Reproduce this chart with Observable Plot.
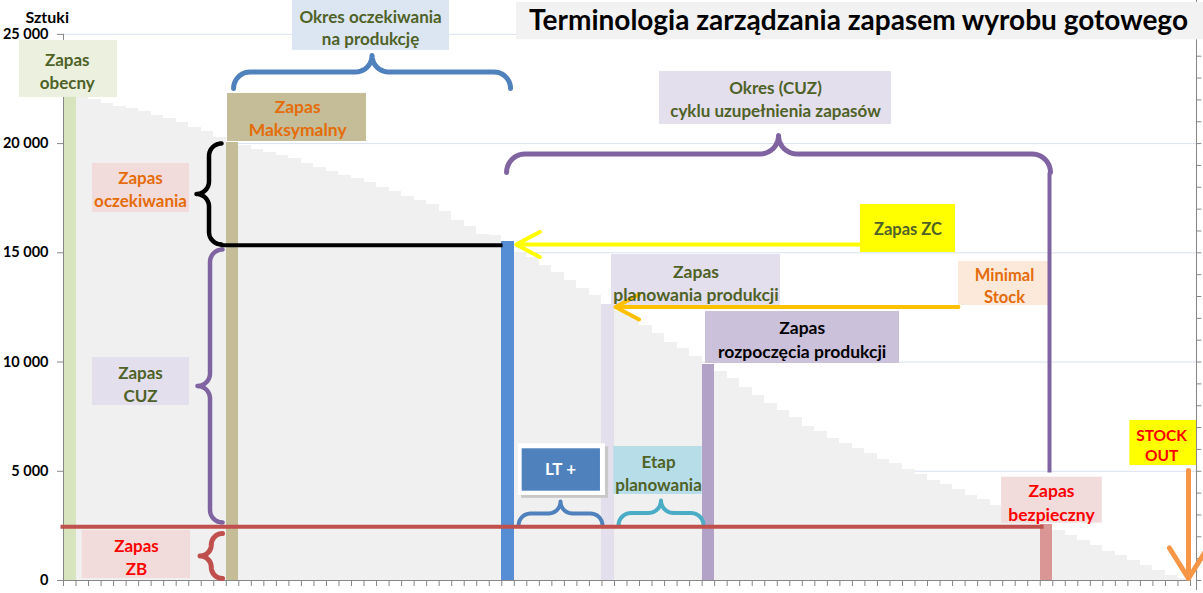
<!DOCTYPE html>
<html><head><meta charset="utf-8">
<script src="https://cdn.jsdelivr.net/npm/d3@7"></script>
<script src="https://cdn.jsdelivr.net/npm/@observablehq/plot@0.6"></script>
<style>
html,body{margin:0;padding:0;background:#fff;overflow:hidden;}
#chart svg [aria-label^="y-axis"] text{fill:#000;}
</style></head><body><div id="chart"></div>
<script>
// ---- data: stock level per period (bar index 0..89) ----
const stock = [22300,22100,22000,21850,21700,21600,21450,21300,21150,20950,
  20750,20550,20300,20050,19900,19750,19600,19450,19300,19100,
  18900,18700,18550,18400,18200,18000,17800,17600,17400,17200,
  16900,16500,16200,15850,15800,15500,15000,14800,14400,14100,
  13750,13350,13050,12650,12300,12050,11650,11300,10900,10600,
  10250,9900,9550,9250,8850,8450,8100,7800,7450,7050,
  6800,6500,6250,6050,5800,5550,5350,5100,4850,4600,
  4400,4150,3900,3700,3450,3250,3000,2800,2550,2300,
  2050,1850,1600,1350,1150,900,700,450,250,100];
const specialIdx  = [0, 13, 35, 43, 51, 78];
const specialKeys = ["obecny", "maks", "zc", "plan", "rozp", "bezp"];
const yTicks = [0, 5000, 10000, 15000, 20000, 25000];
const rightTicks = d3.range(0, 27000, 1000);
const titleText = "Terminologia zarządzania zapasem wyrobu gotowego";
const unitText = "Sztuki";

// ---- styles ----
const barColors = {base:"#f0f0f0", obecny:"#d7e4bd", maks:"#c4bd97", zc:"#558ed5", plan:"#e4dfec", rozp:"#b3a2c7", bezp:"#d99694"};
const FONT = "Lato, 'Open Sans', sans-serif";

// ---- layout ----
const W = 1203, H = 593, ML = 63, MR = 13, MT = 0, MB = 13;
const XD = [0, 90], YD = [0, 26550];
const xs = d3.scaleLinear(XD, [ML, W - MR]);
const ys = d3.scaleLinear(YD, [H - MB, MT]);

// ---- annotations (data coordinates: x = period, y = pieces) ----
const boxes = [
  {x1:36.18, x2:91.2, y1:24750, y2:26461, fill:"#f2f2f2"},
  {x1:-3.51, x2:4.31, y1:22112, y2:24721, fill:"#ebf1de"},
  {x1:18.29, x2:30.83, y1:24263, y2:26600, fill:"#dce6f2"},
  {x1:13.10, x2:24.20, y1:20097, y2:22295, fill:"#c4bd97"},
  {x1:2.32, x2:10.06, y1:16847, y2:19090, fill:"#f2dcdb"},
  {x1:47.60, x2:66.12, y1:20876, y2:23302, fill:"#e4dfec"},
  {x1:63.65, x2:71.23, y1:15016, y2:17213, fill:"#ffff00"},
  {x1:43.76, x2:57.26, y1:12590, y2:14924, fill:"#e4dfec"},
  {x1:71.47, x2:78.82, y1:12590, y2:14604, fill:"#fde9d9"},
  {x1:51.27, x2:66.76, y1:9934, y2:12315, fill:"#ccc1da"},
  {x1:2.32, x2:10.06, y1:8012, y2:10209, fill:"#e4dfec"},
  {x1:1.49, x2:10.14, y1:92, y2:2289, fill:"#f2dcdb"},
  {x1:36.58, x2:43.53, y1:3760, y2:6120, fill:"#c8c8c8"},
  {x1:36.33, x2:43.28, y1:3891, y2:6258, fill:"#ffffff"},
  {x1:36.63, x2:42.88, y1:4088, y2:6029, fill:"#4f81bd"},
  {x1:43.95, x2:51.01, y1:3937, y2:6135, fill:"#b7dee8"},
  {x1:74.91, x2:82.95, y1:2623, y2:4729, fill:"#f2dcdb"},
  {x1:85.16, x2:90.48, y1:5265, y2:7325, fill:"#ffff00"}
];
const labels = [
  {text:"Zapas\nobecny", x:0.30, y:23343, color:"#4f6228", size:17},
  {text:"Okres oczekiwania\nna produkcję", x:24.52, y:25339, color:"#4f6228", size:17},
  {text:"Zapas\nMaksymalny", x:18.70, y:21210, color:"#e46c0a", size:17.5},
  {text:"Zapas\noczekiwania", x:6.15, y:17946, color:"#e46c0a", size:17},
  {text:"Okres (CUZ)\ncyklu uzupełnienia zapasów", x:56.86, y:22066, color:"#4f6228", size:17},
  {text:"Zapas ZC", x:67.44, y:16115, color:"#4f6228", size:16.5},
  {text:"Zapas\nplanowania produkcji", x:50.51, y:13665, color:"#4f6228", size:17.5},
  {text:"Minimal\nStock", x:75.15, y:13528, color:"#e46c0a", size:16.5},
  {text:"Zapas\nrozpoczęcia produkcji", x:58.99, y:11079, color:"#000000", size:17.5},
  {text:"Zapas\nCUZ", x:6.15, y:9019, color:"#4f6228", size:17},
  {text:"Zapas\nZB", x:5.83, y:1122, color:"#ff0000", size:17},
  {text:"Etap\nplanowania", x:47.52, y:4958, color:"#4f6228", size:17},
  {text:"Zapas\nbezpieczny", x:78.90, y:3617, color:"#ff0000", size:17.5},
  {text:"STOCK\nOUT", x:87.69, y:6235, color:"#ff0000", size:15.5}
];
const ltLabel = {text:"LT +", x:39.69, y:5068};
const braces = [
  {orient:"up",   base:22524, a1:13.58, a2:35.70, tip:24035, color:"#4f81bd", w:5},
  {orient:"up",   base:18678, a1:35.38, a2:78.82, tip:20372, color:"#8064a2", w:5},
  {orient:"left", base:12.62, a1:20006, a2:15382, tip:10.62, color:"#000000", w:4.5},
  {orient:"left", base:12.70, a1:15153, a2:2655,  tip:10.70, color:"#8064a2", w:4.5},
  {orient:"left", base:12.70, a1:2152,  a2:92,    tip:10.78, color:"#c0504d", w:5},
  {orient:"up",   base:2518,  a1:36.34, a2:43.04, tip:3617,  color:"#4f81bd", w:4},
  {orient:"up",   base:2518,  a1:44.32, a2:51.11, tip:3662,  color:"#4bacc6", w:4}
];
const lines = [
  {x1:-0.24, x2:78.26, y1:2460, y2:2460, color:"#c0504d", w:4},
  {x1:12.54, x2:35.06, y1:15350, y2:15350, color:"#000000", w:4},
  {x1:78.74, x2:78.74, y1:18678, y2:4944, color:"#8064a2", w:4}
];
const arrows = [
  {x1:63.65, x2:36.15, y1:15382, y2:15382, color:"#ffff00", w:4, head:10, angle:56},
  {x1:71.47, x2:44.08, y1:12521, y2:12521, color:"#ffc000", w:4, head:10, angle:56},
  {x1:89.84, x2:89.84, y1:5036, y2:92, color:"#f79646", w:5, head:12, angle:64}
];

function bracePoints(b) {
  let B, A1, A2, T;
  if (b.orient === "up") { B = ys(b.base); A1 = xs(b.a1); A2 = xs(b.a2); T = ys(b.tip); }
  else { B = xs(b.base); A1 = ys(b.a1); A2 = ys(b.a2); T = xs(b.tip); }
  if (A1 > A2) [A1, A2] = [A2, A1];
  const r = Math.min(Math.abs(B - T) / 2, (A2 - A1) / 4), am = (A1 + A2) / 2;
  const pts = [];
  const arc = (ca, cb, t0, t1) => { for (let k = 0; k <= 10; k++) { const t = t0 + (t1 - t0) * k / 10; pts.push([ca + r * Math.cos(t), cb + r * Math.sin(t)]); } };
  arc(A1 + r, 0, Math.PI, Math.PI / 2);
  arc(am - r, 2 * r, -Math.PI / 2, 0);
  arc(am + r, 2 * r, Math.PI, 1.5 * Math.PI);
  arc(A2 - r, 0, Math.PI / 2, 0);
  return pts.map(([a, v]) => b.orient === "up"
    ? {x: xs.invert(a), y: ys.invert(B - v)}
    : {x: xs.invert(B - v), y: ys.invert(a)});
}

const bars = stock.map((v, i) => {
  const k = specialIdx.indexOf(i);
  return {i, v, fill: barColors[k >= 0 ? specialKeys[k] : "base"]};
});

const marks = [
  Plot.ruleY(yTicks.filter(d => d > 0), {y: d => d, x1: 0, x2: 90.48, stroke: "#d9e2f1", strokeWidth: 1}),
  Plot.rect(bars, {x1: d => d.i, x2: d => d.i + 1, y1: 0, y2: d => d.v, fill: d => d.fill, shapeRendering: "crispEdges"}),
  Plot.ruleX([0], {y1: 0, y2: 25000, stroke: "#868686"}),
  Plot.ruleY([0], {x1: 0, x2: 90, stroke: "#868686"}),
  Plot.ruleX([90.48], {y1: -460, y2: 26550, stroke: "#868686"}),
  Plot.ruleY(rightTicks, {y: d => d, x1: 90.48, x2: 90.9, stroke: "#868686"}),
  Plot.rect(boxes, {x1: "x1", x2: "x2", y1: "y1", y2: "y2", fill: d => d.fill}),
  ...braces.map(b => Plot.line(bracePoints(b), {x: "x", y: "y", stroke: b.color, strokeWidth: b.w, strokeLinecap: "round", strokeLinejoin: "round"})),
  ...lines.map(l => Plot.link([l], {x1: "x1", x2: "x2", y1: "y1", y2: "y2", stroke: l.color, strokeWidth: l.w})),
  ...arrows.map(a => Plot.arrow([a], {x1: "x1", x2: "x2", y1: "y1", y2: "y2", stroke: a.color, strokeWidth: a.w, headLength: a.head, headAngle: a.angle})),
  ...labels.map(l => Plot.text([l], {x: "x", y: "y", text: "text", fill: l.color, fontFamily: FONT, fontWeight: "bold", fontSize: l.size, lineHeight: 1.33})),
  Plot.text([ltLabel], {x: "x", y: "y", text: "text", fill: "#ffffff", fontFamily: FONT, fontWeight: "bold", fontSize: 17}),
  Plot.text([titleText], {x: 63.49, y: 25591, text: d => d, fill: "#000000", fontFamily: FONT, fontSize: 28}),
  Plot.text([unitText], {x: -1.30, y: 25774, text: d => d, fill: "#000000", fontFamily: FONT, fontWeight: "bold", fontSize: 16})
];

const chart = Plot.plot({
  width: W, height: H,
  marginLeft: ML, marginRight: MR, marginTop: MT, marginBottom: MB,
  style: {fontFamily: FONT, fontSize: "14.5px", fontWeight: "bold", color: "#868686", background: "#ffffff", overflow: "visible"},
  x: {type: "linear", domain: XD, ticks: d3.range(0, 91), tickSize: 6, tickFormat: () => "", label: null},
  y: {type: "linear", domain: YD, ticks: yTicks, tickSize: 6, tickPadding: 9, label: null,
      tickFormat: d => d3.format(",")(d).replace(/,/g, " ")},
  color: {type: "identity"},
  marks
});
document.getElementById("chart").appendChild(chart);
</script>
</body></html>
